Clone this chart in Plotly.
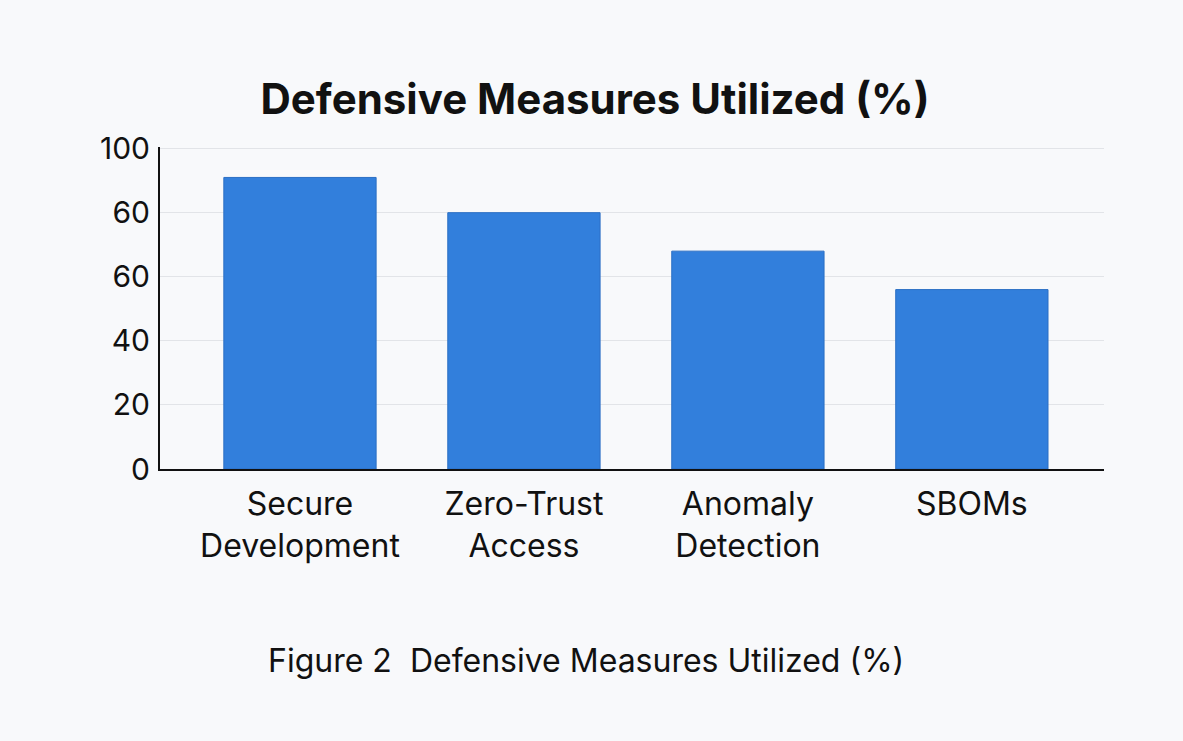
import plotly.graph_objects as go

categories = ["Secure<br>Development", "Zero-Trust<br>Access", "Anomaly<br>Detection", "SBOMs"]
values = [91, 80, 68, 56]
tick_vals = [0, 20, 40, 60, 80, 100]
tick_text = ["0", "20", "40", "60", "60", "100"]

W, H = 1183, 741
left, right, top, bottom = 160, 1104, 147, 469

fig = go.Figure(go.Bar(
    x=categories, y=values,
    marker=dict(color="#327fdc", line=dict(color="#2b6fc4", width=1)),
    width=0.68,
))

fig.update_layout(
    width=W, height=H,
    margin=dict(l=left, r=W - right, t=top, b=H - bottom, pad=0),
    paper_bgcolor="#f8f9fb",
    plot_bgcolor="#f8f9fb",
    font=dict(family="Inter, Liberation Sans, Arial, sans-serif", color="#111111"),
    showlegend=False,
    title=dict(
        text="<b>Defensive Measures Utilized (%)</b>",
        x=595 / W, xanchor="center",
        y=1 - 99 / H, yanchor="middle",
        font=dict(size=42, color="#111111"),
    ),
    annotations=[dict(
        text="Figure 2  Defensive Measures Utilized (%)",
        xref="paper", yref="paper",
        x=(586 - left) / (right - left), xanchor="center",
        y=(bottom - 660) / (bottom - top), yanchor="middle",
        showarrow=False,
        font=dict(size=32, color="#111111"),
    )],
)

fig.update_xaxes(
    range=[-0.625, 3.59],
    showline=True, linecolor="#111111", linewidth=2,
    showgrid=False, ticks="",
    ticklabelstandoff=6,
    tickfont=dict(size=32, color="#111111"),
)
fig.update_yaxes(
    range=[0, 100.5],
    tickvals=tick_vals, ticktext=tick_text,
    showline=True, linecolor="#111111", linewidth=2,
    showgrid=True, gridcolor="#e2e4e8", gridwidth=1,
    zeroline=False, ticks="",
    ticklabelstandoff=2,
    tickfont=dict(size=30, color="#111111"),
)

fig.write_html("out.html")
